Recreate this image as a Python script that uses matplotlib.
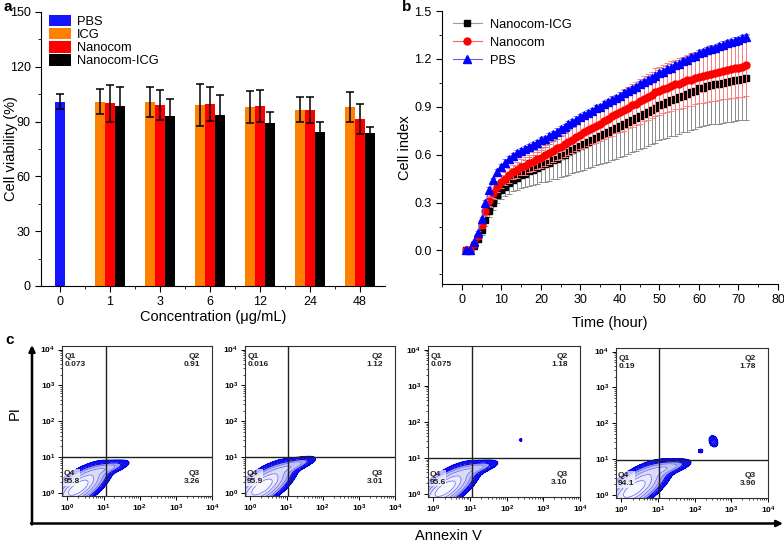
import numpy as np
import matplotlib
matplotlib.use('Agg')
import matplotlib.pyplot as plt
from matplotlib.ticker import MultipleLocator, FixedLocator, FormatStrFormatter

plt.rcParams['font.family'] = ['Liberation Sans', 'DejaVu Sans']
plt.rcParams['mathtext.fontset'] = 'custom'
plt.rcParams['mathtext.rm'] = 'Liberation Sans'
plt.rcParams['mathtext.bf'] = 'Liberation Sans:bold'
plt.rcParams['mathtext.it'] = 'Liberation Sans:italic'

# ---------------- Panel a data ----------------
concentrations = ['0', '1', '3', '6', '12', '24', '48']
pbs_val = [101.0]
pbs_err = [4.0]
icg_val = [101.0, 100.7, 99.0, 97.8, 96.6, 98.0]
icg_err = [7.0, 8.3, 11.6, 8.7, 7.0, 8.0]
nano_val = [100.0, 99.0, 99.7, 98.4, 96.2, 91.4]
nano_err = [10.3, 8.2, 9.2, 8.8, 7.1, 8.0]
nicg_val = [98.5, 93.0, 93.4, 89.3, 84.4, 83.6]
nicg_err = [10.6, 9.5, 11.0, 6.2, 5.2, 3.6]

# ---------------- Panel b data ----------------
time_h = list(range(1, 73))
nicg_ci = [0.00, 0.00, 0.03, 0.07, 0.13, 0.19, 0.25, 0.30, 0.35, 0.38,
           0.40, 0.42, 0.44, 0.455, 0.47, 0.48, 0.495, 0.505, 0.515, 0.53,
           0.54, 0.55, 0.565, 0.575, 0.59, 0.60, 0.615, 0.63, 0.64, 0.655,
           0.665, 0.68, 0.69, 0.705, 0.715, 0.73, 0.74, 0.755, 0.765, 0.78,
           0.79, 0.805, 0.82, 0.83, 0.845, 0.855, 0.87, 0.88, 0.895, 0.91,
           0.92, 0.93, 0.94, 0.95, 0.96, 0.97, 0.98, 0.99, 1.00, 1.015,
           1.02, 1.03, 1.035, 1.04, 1.045, 1.05, 1.055, 1.06, 1.065, 1.07, 1.075, 1.08]
nicg_ci_err = [0.00, 0.00, 0.01, 0.02, 0.03, 0.035, 0.04, 0.045, 0.05, 0.055,
               0.06, 0.065, 0.07, 0.075, 0.08, 0.085, 0.09, 0.095, 0.10, 0.10,
               0.11, 0.115, 0.12, 0.125, 0.13, 0.135, 0.14, 0.145, 0.15, 0.155,
               0.16, 0.165, 0.17, 0.17, 0.175, 0.18, 0.185, 0.19, 0.19, 0.195,
               0.20, 0.20, 0.205, 0.205, 0.21, 0.21, 0.215, 0.215, 0.22, 0.22,
               0.22, 0.225, 0.225, 0.23, 0.23, 0.23, 0.235, 0.235, 0.24, 0.24,
               0.24, 0.245, 0.245, 0.245, 0.25, 0.25, 0.25, 0.255, 0.255, 0.255, 0.26, 0.26]
nano_ci = [0.00, 0.00, 0.04, 0.09, 0.16, 0.25, 0.31, 0.36, 0.40, 0.43,
           0.45, 0.47, 0.49, 0.505, 0.52, 0.53, 0.545, 0.555, 0.57, 0.58,
           0.595, 0.61, 0.625, 0.64, 0.65, 0.665, 0.68, 0.695, 0.71, 0.725,
           0.74, 0.755, 0.765, 0.78, 0.795, 0.81, 0.825, 0.84, 0.855, 0.87,
           0.88, 0.895, 0.91, 0.92, 0.935, 0.95, 0.96, 0.975, 0.99, 1.00,
           1.01, 1.02, 1.03, 1.04, 1.045, 1.055, 1.065, 1.07, 1.08, 1.088,
           1.095, 1.10, 1.105, 1.11, 1.12, 1.125, 1.13, 1.135, 1.14, 1.145, 1.15, 1.16]
nano_ci_err = [0.00, 0.00, 0.01, 0.015, 0.02, 0.025, 0.03, 0.03, 0.035, 0.04,
               0.04, 0.045, 0.045, 0.05, 0.05, 0.055, 0.055, 0.06, 0.06, 0.065,
               0.065, 0.07, 0.07, 0.075, 0.075, 0.08, 0.08, 0.085, 0.085, 0.09,
               0.095, 0.10, 0.10, 0.105, 0.11, 0.11, 0.115, 0.12, 0.12, 0.125,
               0.13, 0.13, 0.135, 0.135, 0.14, 0.14, 0.145, 0.145, 0.15, 0.15,
               0.15, 0.155, 0.155, 0.155, 0.16, 0.16, 0.16, 0.165, 0.165, 0.165,
               0.17, 0.17, 0.17, 0.175, 0.175, 0.175, 0.18, 0.18, 0.185, 0.185, 0.19, 0.19]
pbs_ci = [0.00, 0.00, 0.05, 0.11, 0.20, 0.30, 0.38, 0.44, 0.49, 0.52,
          0.55, 0.57, 0.59, 0.61, 0.62, 0.635, 0.65, 0.66, 0.675, 0.69,
          0.70, 0.715, 0.73, 0.745, 0.76, 0.775, 0.79, 0.805, 0.82, 0.835,
          0.85, 0.86, 0.875, 0.89, 0.90, 0.915, 0.93, 0.945, 0.955, 0.97,
          0.985, 1.00, 1.01, 1.025, 1.04, 1.055, 1.07, 1.08, 1.095, 1.11,
          1.12, 1.135, 1.145, 1.16, 1.17, 1.185, 1.195, 1.21, 1.22, 1.235,
          1.245, 1.255, 1.265, 1.27, 1.28, 1.29, 1.30, 1.305, 1.315, 1.32, 1.33, 1.335]
pbs_ci_err = [0.00, 0.00, 0.01, 0.01, 0.01, 0.015, 0.015, 0.015, 0.02, 0.02,
              0.02, 0.02, 0.02, 0.02, 0.02, 0.02, 0.02, 0.02, 0.02, 0.02,
              0.02, 0.02, 0.02, 0.02, 0.02, 0.02, 0.02, 0.02, 0.02, 0.02,
              0.02, 0.02, 0.02, 0.02, 0.02, 0.02, 0.02, 0.02, 0.02, 0.02,
              0.02, 0.02, 0.02, 0.02, 0.02, 0.02, 0.02, 0.02, 0.02, 0.02,
              0.02, 0.02, 0.02, 0.02, 0.02, 0.02, 0.02, 0.02, 0.02, 0.02,
              0.02, 0.02, 0.02, 0.02, 0.02, 0.02, 0.02, 0.02, 0.02, 0.02, 0.02, 0.02]

# ---------------- Panel c data ----------------
q1_pct = ['0.073', '0.016', '0.075', '0.19']
q2_pct = ['0.91', '1.12', '1.18', '1.78']
q3_pct = ['3.26', '3.01', '3.10', '3.90']
q4_pct = ['95.8', '95.9', '95.6', '94.1']
gate_x = [1.07, 1.05, 1.04, 1.02]     # log10 Annexin V gate
gate_y = [1.00, 1.00, 0.99, 0.97]     # log10 PI gate
# population shapes in log10 units: centre x, centre y, spread along, spread across, angle, weight
core_pop = [(0.30, 0.15, 0.42, 0.17, 35, 1.0),
            (0.32, 0.17, 0.44, 0.175, 35, 1.0),
            (0.32, 0.15, 0.43, 0.17, 35, 1.0),
            (0.35, 0.17, 0.46, 0.185, 35, 1.0)]
tip_pop = [(1.05, 0.68, 0.33, 0.08, 15, 0.20),
           (1.12, 0.75, 0.34, 0.08, 18, 0.22),
           (1.10, 0.70, 0.33, 0.08, 15, 0.20),
           (1.15, 0.74, 0.36, 0.09, 14, 0.24)]
extra_pop = [[], [], [(2.38, 1.50, 0.025, 0.025, 0, 0.06)],
             [(2.16, 1.23, 0.04, 0.035, 0, 0.07), (2.51, 1.50, 0.07, 0.10, 20, 0.09)]]


def gauss(X, Y, cx, cy, sx, sy, ang, w):
    a = np.deg2rad(ang)
    dx, dy = X - cx, Y - cy
    u = dx * np.cos(a) + dy * np.sin(a)
    v = -dx * np.sin(a) + dy * np.cos(a)
    return w * np.exp(-0.5 * ((u / sx) ** 2 + (v / sy) ** 2))


W, H = 784, 544
fig = plt.figure(figsize=(W / 100, H / 100), dpi=100)


def px_axes(l, t, r, b):
    return fig.add_axes([l / W, 1 - b / H, (r - l) / W, (b - t) / H])


# ---------------- Panel a ----------------
axa = px_axes(41, 12, 385, 286)
bw = 0.2
c_pbs, c_icg, c_nano, c_nicg = '#1414ff', '#ff8000', '#ff0000', '#000000'
ekw = dict(ecolor='black', elinewidth=1.1, capsize=3, capthick=1.1)
axa.bar([0], pbs_val, bw, yerr=pbs_err, color=c_pbs, label='PBS', error_kw=ekw)
gx = np.arange(1, len(concentrations))
axa.bar(gx - bw, icg_val, bw, yerr=icg_err, color=c_icg, label='ICG', error_kw=ekw)
axa.bar(gx, nano_val, bw, yerr=nano_err, color=c_nano, label='Nanocom', error_kw=ekw)
axa.bar(gx + bw, nicg_val, bw, yerr=nicg_err, color=c_nicg, label='Nanocom-ICG', error_kw=ekw)
axa.set_xlim(-0.38, 6.5)
axa.set_ylim(0, 150)
axa.set_xticks(range(len(concentrations)))
axa.set_xticklabels(concentrations)
axa.xaxis.set_minor_locator(FixedLocator(np.arange(0.5, 6.5, 1.0)))
axa.yaxis.set_major_locator(MultipleLocator(30))
axa.yaxis.set_minor_locator(MultipleLocator(15))
for s in ['top', 'right']:
    axa.spines[s].set_visible(False)
axa.tick_params(which='major', direction='out', length=4, labelsize=9)
axa.tick_params(which='minor', direction='out', length=2.5)
axa.set_ylabel('Cell viability (%)', fontsize=10.5)
axa.yaxis.set_label_coords(-0.068, 0.5)
axa.set_xlabel('Concentration (μg/mL)', fontsize=10.5, labelpad=1)
axa.legend(loc='upper left', bbox_to_anchor=(0.015, 1.0), fontsize=9.3, frameon=True,
           edgecolor='none', facecolor='white', framealpha=1, labelspacing=0.0,
           handlelength=1.75, handleheight=1.0, handletextpad=0.45, borderpad=0.2,
           borderaxespad=0)

# ---------------- Panel b ----------------
axb = px_axes(442, 11, 778, 284)
series_b = [(nicg_ci, nicg_ci_err, 's', 'black', '#8c8c8c', '#9a9a9a', 'Nanocom-ICG', 4.2),
            (nano_ci, nano_ci_err, 'o', '#ff0000', '#ff8080', '#ff6060', 'Nanocom', 5.0),
            (pbs_ci, pbs_ci_err, '^', '#0000ff', '#8080ff', '#6060ff', 'PBS', 5.4)]
for vals, errs, mk, col, ecol, lcol, lab, ms in series_b:
    axb.errorbar(time_h, vals, yerr=errs, fmt='none', ecolor=ecol, elinewidth=0.7,
                 capsize=2, capthick=0.7)
    axb.plot(time_h, vals, linestyle='-', color=lcol, lw=0.8, marker=mk, ms=ms,
             mfc=col, mec=col, label=lab)
axb.set_xlim(-5, 80)
axb.set_ylim(-0.21, 1.5)
axb.xaxis.set_major_locator(MultipleLocator(10))
axb.xaxis.set_minor_locator(MultipleLocator(5))
axb.yaxis.set_major_locator(FixedLocator([0.0, 0.3, 0.6, 0.9, 1.2, 1.5]))
axb.yaxis.set_minor_locator(FixedLocator([-0.15, 0.15, 0.45, 0.75, 1.05, 1.35]))
axb.yaxis.set_major_formatter(FormatStrFormatter('%.1f'))
for s in ['top', 'right']:
    axb.spines[s].set_visible(False)
axb.tick_params(which='major', direction='out', length=4, labelsize=9)
axb.tick_params(which='minor', direction='out', length=2.5)
axb.set_ylabel('Cell index', fontsize=10.5)
axb.yaxis.set_label_coords(-0.09, 0.5)
axb.set_xlabel('Time (hour)', fontsize=10.5, labelpad=7)
axb.legend(loc='upper left', bbox_to_anchor=(0.02, 0.985), fontsize=9.3, frameon=True,
           edgecolor='none', facecolor='white', framealpha=1, labelspacing=0.45,
           handlelength=2.3, handletextpad=0.6, borderpad=0.3, borderaxespad=0)

# ---------------- Panel c ----------------
flow_boxes = [(62, 346, 212, 496), (245, 346, 395, 496), (428, 346, 580, 497), (616, 348, 768, 498)]
gxs = np.linspace(-1.0, 4.3, 420)
X, Y = np.meshgrid(gxs, gxs)
levels = [0.025, 0.085, 0.16, 0.30, 0.50, 0.75, 2.0]
fill_cols = ['#1010f2', '#a2a2f2', '#c4c4f6', '#dadaf9', '#eaeafc', '#f7f7fe']
minor_pos = [d + np.log10(k) for d in range(0, 4) for k in range(2, 10)]
for i, box in enumerate(flow_boxes):
    ax = px_axes(*box)
    Z = gauss(X, Y, *core_pop[i]) + gauss(X, Y, *tip_pop[i])
    for ep in extra_pop[i]:
        Z = Z + gauss(X, Y, *ep)
    ax.contourf(X, Y, Z, levels=levels, colors=fill_cols, zorder=1)
    ax.contour(X, Y, Z, levels=levels[2:-1], colors='#6262ee', linewidths=0.5, zorder=2)
    ax.contour(X, Y, Z, levels=levels[:2], colors='#0000e6', linewidths=0.8, zorder=2)
    ax.axvline(gate_x[i], color='#202020', lw=1.0, zorder=3)
    ax.axhline(gate_y[i], color='#202020', lw=1.0, zorder=3)
    ax.set_xlim(-0.15, 4.0)
    ax.set_ylim(-0.08, 4.1)
    ax.set_xticks(range(5))
    ax.set_yticks(range(5))
    ax.set_xticklabels([r'$\mathbf{10^{%d}}$' % d for d in range(5)])
    ax.set_yticklabels([r'$\mathbf{10^{%d}}$' % d for d in range(5)])
    ax.xaxis.set_minor_locator(FixedLocator(minor_pos))
    ax.yaxis.set_minor_locator(FixedLocator(minor_pos))
    ax.tick_params(which='major', direction='out', length=3, width=0.7, labelsize=6, pad=2)
    ax.tick_params(which='minor', direction='out', length=1.6, width=0.5)
    for s in ax.spines.values():
        s.set_linewidth(0.8)
        s.set_color('#303030')
    tkw = dict(transform=ax.transAxes, fontsize=6, fontweight='bold', color='#222222',
               linespacing=1.25, zorder=5)
    ax.text(0.02, 0.955, 'Q1\n' + q1_pct[i], ha='left', va='top', **tkw)
    ax.text(0.92, 0.955, 'Q2\n' + q2_pct[i], ha='right', va='top', multialignment='right', **tkw)
    ax.text(0.01, 0.175, 'Q4\n' + q4_pct[i], ha='left', va='top',
            bbox=dict(facecolor='white', edgecolor='none', alpha=0.7, pad=0.5), **tkw)
    ax.text(0.92, 0.175, 'Q3\n' + q3_pct[i], ha='right', va='top', multialignment='right', **tkw)

# big axes arrows and labels
ov = fig.add_axes([0, 0, 1, 1], facecolor='none')
ov.set_xlim(0, W)
ov.set_ylim(H, 0)
ov.axis('off')
ov.annotate('', xy=(32, 345), xytext=(32, 524.5),
            arrowprops=dict(arrowstyle='-|>', lw=1.8, color='black', mutation_scale=9,
                            shrinkA=0, shrinkB=0))
ov.annotate('', xy=(783, 523.5), xytext=(31, 523.5),
            arrowprops=dict(arrowstyle='-|>', lw=1.8, color='black', mutation_scale=9,
                            shrinkA=0, shrinkB=0))
ov.text(15, 413, 'PI', rotation=90, ha='center', va='center', fontsize=10.5)
ov.text(448, 536, 'Annexin V', ha='center', va='center', fontsize=10.5)

fig.text(3 / W, 1 - 7 / H, 'a', fontsize=11, fontweight='bold', ha='left', va='center')
fig.text(402 / W, 1 - 7 / H, 'b', fontsize=11, fontweight='bold', ha='left', va='center')
fig.text(5 / W, 1 - 340 / H, 'c', fontsize=11, fontweight='bold', ha='left', va='center')

fig.savefig('out.png', dpi=100)
